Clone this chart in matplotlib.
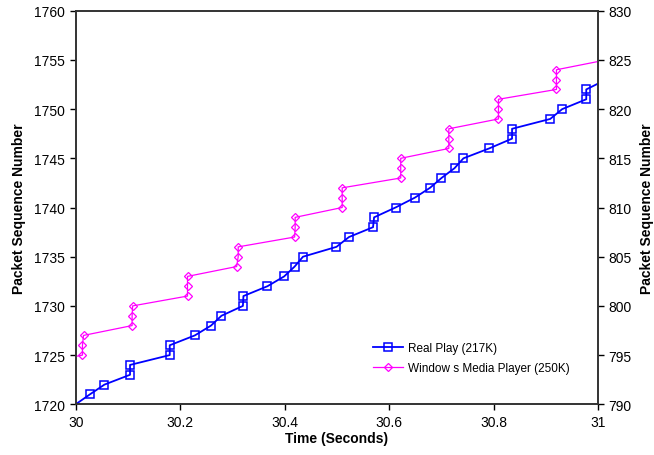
import matplotlib
matplotlib.use("Agg")
import matplotlib.pyplot as plt

plt.rcParams["font.family"] = ["Liberation Sans", "DejaVu Sans"]

# Real Play (left axis)
rp_time = [30.0, 30.027, 30.055, 30.104, 30.104, 30.180, 30.180, 30.228, 30.259, 30.279,
           30.320, 30.321, 30.367, 30.399, 30.419, 30.435, 30.499, 30.523, 30.569, 30.571,
           30.612, 30.649, 30.678, 30.700, 30.725, 30.742, 30.791, 30.835, 30.835, 30.908,
           30.931, 30.977, 30.977, 31.015]
rp_seq = [1720, 1721, 1722, 1723, 1724, 1725, 1726, 1727, 1728, 1729,
          1730, 1731, 1732, 1733, 1734, 1735, 1736, 1737, 1738, 1739,
          1740, 1741, 1742, 1743, 1744, 1745, 1746, 1747, 1748, 1749,
          1750, 1751, 1752, 1753]

# Windows Media Player (right axis)
wmp_time = [29.915, 30.013, 30.013, 30.015, 30.108, 30.108, 30.109, 30.214, 30.214, 30.214,
            30.308, 30.311, 30.311, 30.419, 30.420, 30.420, 30.510, 30.510, 30.510,
            30.622, 30.622, 30.622, 30.714, 30.714, 30.714, 30.809, 30.809, 30.809,
            30.920, 30.920, 30.920, 31.015]
wmp_seq = [794, 795, 796, 797, 798, 799, 800, 801, 802, 803,
           804, 805, 806, 807, 808, 809, 810, 811, 812,
           813, 814, 815, 816, 817, 818, 819, 820, 821,
           822, 823, 824, 825]

x_ticks = [30, 30.2, 30.4, 30.6, 30.8, 31]
x_labels = ["30", "30.2", "30.4", "30.6", "30.8", "31"]

fig = plt.figure(figsize=(6.54, 4.56), dpi=100)
ax = fig.add_axes([0.1157, 0.1112, 0.7991, 0.8631])
ax2 = ax.twinx()

l1, = ax.plot(rp_time, rp_seq, color="#0000ff", lw=1.3, marker="s", ms=5.5,
              mfc="none", mec="#0000ff", mew=1.1, label="Real Play (217K)",
              markevery=list(range(1, len(rp_time))))
l2, = ax2.plot(wmp_time, wmp_seq, color="#ff00ff", lw=0.9, marker="D", ms=4.5,
               mfc="none", mec="#ff00ff", mew=0.9, label="Window s Media Player (250K)")

ax.set_xlim(30, 31)
ax.set_ylim(1720, 1760)
ax2.set_ylim(790, 830)
ax.set_xticks(x_ticks)
ax.set_xticklabels(x_labels)
ax.set_yticks(range(1720, 1761, 5))
ax2.set_yticks(range(790, 831, 5))

for a in (ax, ax2):
    a.tick_params(direction="out", length=4, width=1, labelsize=10, colors="black")
    for s in a.spines.values():
        s.set_color("#333333")
        s.set_linewidth(1.2)

ax.set_xlabel("Time (Seconds)", fontsize=10, fontweight="bold", labelpad=2)
ax.set_ylabel("Packet Sequence Number", fontsize=10, fontweight="bold", labelpad=6)
ax2.set_ylabel("Packet Sequence Number", fontsize=10, fontweight="bold", labelpad=6)

ax2.legend(handles=[l1, l2], loc="upper left", bbox_to_anchor=(0.570, 0.247),
           bbox_transform=fig.transFigure, frameon=False, fontsize=8.5,
           handlelength=2.6, handletextpad=0.4, borderpad=0, borderaxespad=0,
           labelspacing=0.65)

fig.savefig("out.png", dpi=100)
